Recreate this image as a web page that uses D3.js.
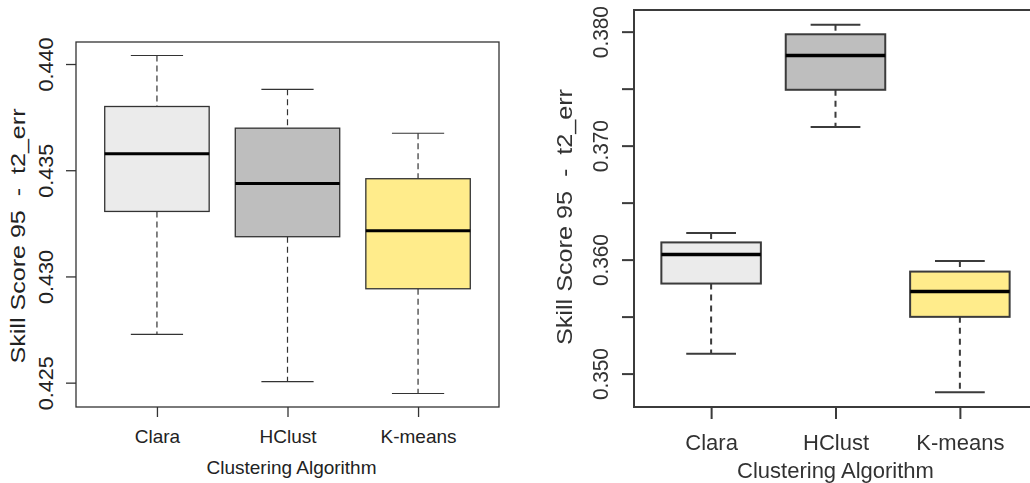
<!DOCTYPE html>
<html>
<head>
<meta charset="utf-8">
<script src="https://cdn.jsdelivr.net/npm/d3@7/dist/d3.min.js"></script>
<style>
  html, body { margin: 0; padding: 0; background: #fff; }
  svg { display: block; font-family: "Liberation Sans", Arial, sans-serif; }
</style>
</head>
<body>
<svg id="chart" width="1030" height="483"></svg>
<script>
// Clustering algorithms compared on both panels
const clusterNames = ["Clara", "HClust", "K-means"];

// Left panel: Skill Score 95 - t2_err (five-number summaries)
const leftLowerWhisker = [0.42727, 0.42505, 0.42449];
const leftQ1           = [0.43306, 0.43187, 0.42942];
const leftMedian       = [0.43578, 0.43437, 0.43215];
const leftQ3           = [0.43800, 0.43698, 0.43460];
const leftUpperWhisker = [0.44040, 0.43881, 0.43674];
const leftTicks        = [0.425, 0.430, 0.435, 0.440];
const leftTickLabels   = ["0.425", "0.430", "0.435", "0.440"];

// Right panel: Skill Score 95 - t2_err (five-number summaries)
const rightLowerWhisker = [0.35174, 0.37164, 0.34836];
const rightQ1           = [0.35790, 0.37490, 0.35498];
const rightMedian       = [0.36044, 0.37790, 0.35720];
const rightQ3           = [0.36151, 0.37977, 0.35895];
const rightUpperWhisker = [0.36233, 0.38061, 0.35988];
const rightTicks        = [0.350, 0.355, 0.360, 0.365, 0.370, 0.375, 0.380];
const rightTickLabels   = ["0.350", "", "0.360", "", "0.370", "", "0.380"];

const yTitle = "Skill Score 95  -  t2_err";
const xTitle = "Clustering Algorithm";

// Box fill per algorithm
const boxFills = ["#ebebeb", "#bebebe", "#ffec8b"];

const svg = d3.select("#chart");
const defs = svg.append("defs");
defs.append("filter").attr("id", "soft")
  .append("feGaussianBlur").attr("stdDeviation", 0.55);

function drawPanel(p) {
  const g = svg.append("g");
  if (p.filter) g.attr("filter", p.filter);

  const rows = clusterNames.map((name, i) => ({
    name, i,
    lo: p.lo[i], q1: p.q1[i], med: p.med[i], q3: p.q3[i], hi: p.hi[i],
    fill: boxFills[i]
  }));

  // R-style ranges: positions 1..n with 0.5 padding, extended by 4%
  const n = clusterNames.length;
  const xPad = 0.04 * n;
  const x = d3.scaleLinear()
    .domain([0.5 - xPad, n + 0.5 + xPad])
    .range([p.left, p.right]);
  const yMin = d3.min(p.lo), yMax = d3.max(p.hi);
  const yPad = 0.04 * (yMax - yMin);
  const y = d3.scaleLinear()
    .domain([yMin - yPad, yMax + yPad])
    .range([p.bottom, p.top]);

  const boxHalf = (x(1.4) - x(1)) ;      // boxwex 0.8
  const capHalf = (x(1.2) - x(1));       // staplewex 0.5

  const ink = p.ink;

  // Whiskers (dashed)
  const wh = g.append("g").attr("stroke", ink).attr("stroke-width", p.whiskerW)
    .attr("stroke-dasharray", p.dash);
  wh.selectAll(".wu").data(rows).join("line")
    .attr("x1", d => x(d.i + 1)).attr("x2", d => x(d.i + 1))
    .attr("y1", d => y(d.hi)).attr("y2", d => y(d.q3));
  wh.selectAll(".wl").data(rows).join("line")
    .attr("x1", d => x(d.i + 1)).attr("x2", d => x(d.i + 1))
    .attr("y1", d => y(d.q1)).attr("y2", d => y(d.lo));

  // Staples
  const st = g.append("g").attr("stroke", ink).attr("stroke-width", p.whiskerW);
  st.selectAll(".su").data(rows).join("line")
    .attr("x1", d => x(d.i + 1) - capHalf).attr("x2", d => x(d.i + 1) + capHalf)
    .attr("y1", d => y(d.hi)).attr("y2", d => y(d.hi));
  st.selectAll(".sl").data(rows).join("line")
    .attr("x1", d => x(d.i + 1) - capHalf).attr("x2", d => x(d.i + 1) + capHalf)
    .attr("y1", d => y(d.lo)).attr("y2", d => y(d.lo));

  // Boxes
  g.append("g").selectAll("rect").data(rows).join("rect")
    .attr("x", d => x(d.i + 1) - boxHalf)
    .attr("width", 2 * boxHalf)
    .attr("y", d => y(d.q3))
    .attr("height", d => y(d.q1) - y(d.q3))
    .attr("fill", d => d.fill)
    .attr("stroke", ink).attr("stroke-width", p.boxW);

  // Medians
  g.append("g").selectAll("line").data(rows).join("line")
    .attr("x1", d => x(d.i + 1) - boxHalf).attr("x2", d => x(d.i + 1) + boxHalf)
    .attr("y1", d => y(d.med)).attr("y2", d => y(d.med))
    .attr("stroke", "#000").attr("stroke-width", p.medW);

  // Frame
  g.append("rect")
    .attr("x", p.left).attr("y", p.top)
    .attr("width", p.right - p.left).attr("height", p.bottom - p.top)
    .attr("fill", "none").attr("stroke", ink).attr("stroke-width", p.frameW);

  // Y axis ticks and rotated labels
  const yAxis = d3.axisLeft(y).tickValues(p.ticks).tickSize(p.tickLen)
    .tickFormat((d, i) => p.tickLabels[i]);
  const ya = g.append("g").attr("transform", `translate(${p.left},0)`).call(yAxis);
  ya.select(".domain").remove();
  ya.selectAll(".tick line").attr("stroke", ink).attr("stroke-width", p.frameW);
  ya.selectAll(".tick text")
    .attr("fill", p.textInk)
    .attr("font-size", p.rotFont)
    .attr("x", null).attr("dy", null)
    .attr("text-anchor", "middle")
    .attr("transform", `translate(${-p.yLabelOff},0) rotate(-90)`)
    .attr("y", 0)
    .attr("textLength", d => p.tickLabels[p.ticks.indexOf(d)] ? p.tickLabelLen : null)
    .attr("lengthAdjust", "spacingAndGlyphs");

  // X axis ticks and category labels
  const xAxis = d3.axisBottom(x).tickValues(d3.range(1, n + 1)).tickSize(p.tickLen)
    .tickFormat(v => clusterNames[v - 1]);
  const xa = g.append("g").attr("transform", `translate(0,${p.bottom})`).call(xAxis);
  xa.select(".domain").remove();
  xa.selectAll(".tick line").attr("stroke", ink).attr("stroke-width", p.frameW);
  xa.selectAll(".tick text")
    .attr("fill", p.textInk)
    .attr("font-size", p.font)
    .attr("dy", null)
    .attr("y", p.xLabelBase);

  // Titles
  g.append("text")
    .attr("transform", `translate(${p.yTitleX},${p.yTitleY}) rotate(-90)`)
    .attr("text-anchor", "middle")
    .attr("font-size", p.rotFont)
    .attr("fill", p.textInk)
    .attr("textLength", p.yTitleLen)
    .attr("lengthAdjust", "spacingAndGlyphs")
    .style("white-space", "pre")
    .text(yTitle);

  g.append("text")
    .attr("x", (p.left + Math.min(p.right, 1030 + 100)) / 2 + p.xTitleShift)
    .attr("y", p.xTitleBase)
    .attr("text-anchor", "middle")
    .attr("font-size", p.font)
    .attr("fill", p.textInk)
    .text(xTitle);
}

drawPanel({
  lo: leftLowerWhisker, q1: leftQ1, med: leftMedian, q3: leftQ3, hi: leftUpperWhisker,
  ticks: leftTicks, tickLabels: leftTickLabels,
  left: 76, right: 499, top: 42, bottom: 407,
  tickLen: 10, yLabelOff: 23, rotFont: 20, tickLabelLen: 54,
  xLabelBase: 36, xTitleBase: 474, xTitleShift: 4,
  yTitleX: 25, yTitleY: 236, yTitleLen: 255,
  font: 19, ink: "#333", textInk: "#222",
  frameW: 1.3, boxW: 1.3, whiskerW: 1.2, medW: 3, dash: "6,4"
});

drawPanel({
  lo: rightLowerWhisker, q1: rightQ1, med: rightMedian, q3: rightQ3, hi: rightUpperWhisker,
  ticks: rightTicks, tickLabels: rightTickLabels,
  left: 634, right: 1037, top: 10, bottom: 407,
  tickLen: 12, yLabelOff: 26, rotFont: 22, tickLabelLen: 52,
  xLabelBase: 43, xTitleBase: 478, xTitleShift: 0,
  yTitleX: 572, yTitleY: 217, yTitleLen: 256,
  font: 22, ink: "#3a3a3a", textInk: "#333",
  frameW: 2, boxW: 2, whiskerW: 2, medW: 3.5, dash: "6,5",
  filter: "url(#soft)"
});
</script>
</body>
</html>
